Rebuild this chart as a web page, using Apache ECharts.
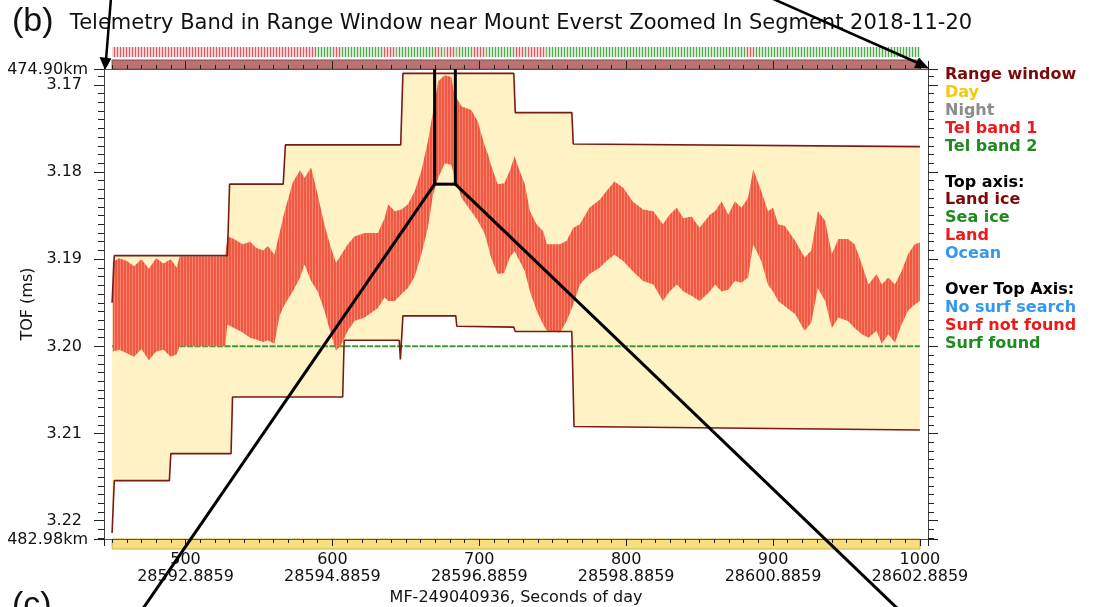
<!DOCTYPE html>
<html><head><meta charset="utf-8">
<script src="https://cdn.jsdelivr.net/npm/echarts@6/dist/echarts.min.js"></script>
<style>html,body{margin:0;padding:0;background:#fff}#c{width:1094px;height:607px}</style>
</head><body><div id="c"></div>
<script>
// ---------- axes ----------
const X_MIN = 444.5, X_MAX = 1005.5;          // MF offset
const Y_MIN = 3.168193, Y_MAX = 3.222093;     // TOF (ms)
const KM_PER_MS = 149.896229;                 // range km per ms of TOF
const SOD0 = 28582.8859, MF_RATE = 50;        // seconds of day at MF 0, frames per second
const TITLE = 'Telemetry Band in Range Window near Mount Everst Zoomed In Segment 2018-11-20';
const X_NAME = 'MF-249040936, Seconds of day';
const Y_NAME = 'TOF (ms)';

// ---------- range window (upper / lower edges) ----------
const winTopX = [450, 451.5, 528.5, 530, 566.5, 568, 646.5, 648, 723.5, 724.5, 763, 764, 1000];
const winTopY = [3.1950, 3.1896, 3.1896, 3.1814, 3.1814, 3.1769, 3.1769, 3.1687, 3.1687, 3.1732, 3.1732, 3.1768, 3.1771];
const winBotX = [450, 451.5, 489, 490, 531, 532, 607, 608, 645.5, 646.3, 648, 684, 684.7, 723.5, 724.5, 763, 764.5, 1000];
const winBotY = [3.2214, 3.2154, 3.2154, 3.2123, 3.2123, 3.2058, 3.2058, 3.1993, 3.1993, 3.2015, 3.1965, 3.1965, 3.1977, 3.1978, 3.1983, 3.1983, 3.2092, 3.2096];

// ---------- telemetry band 1 (envelope) ----------
const bandX = [
  450.5,455,460,465,470,475,480,485,490,494,
  496,527,528.5,532,539,544,548,553,556,560.5,
  564,567.5,573,578,581,585.5,590,594.5,599,602.5,
  606,610.5,615,622,631,635.5,638,642.5,647,651.5,
  656,660.5,665,668.5,672,676.5,681,683,688,694.5,
  699,703.5,706,708,712.5,717,720.7,724,727.5,731,
  734.5,739,743.5,746,755,759.5,764,768.5,775,782,
  786.5,792,798,804.5,811.5,818.5,825,829.5,834.5,839,
  844.5,850,857,860.5,865,869.5,874,878.5,883,886.5,
  892,896.5,900,903.5,908,915,921.5,926,930.5,935.5,
  940,944.5,951,955.5,960.5,965,970.5,974,978.5,983,
  987.5,992,996.5,1000];
const bandTop = [
  3.1903,3.1899,3.1902,3.1908,3.1900,3.1911,3.1899,3.1905,3.1900,3.1910,
  3.1897,3.1897,3.1874,3.1876,3.1883,3.1880,3.1887,3.1890,3.1885,3.1895,
  3.1870,3.1845,3.1812,3.1798,3.1807,3.1795,3.1826,3.1860,3.1887,3.1904,
  3.1895,3.1883,3.1874,3.1870,3.1870,3.1853,3.1837,3.1845,3.1843,3.1837,
  3.1822,3.1799,3.1765,3.1731,3.1696,3.1689,3.1691,3.1711,3.1725,3.1729,
  3.1742,3.1769,3.1780,3.1792,3.1814,3.1813,3.1799,3.1782,3.1799,3.1814,
  3.1845,3.1860,3.1868,3.1883,3.1883,3.1879,3.1864,3.1860,3.1841,3.1832,
  3.1822,3.1811,3.1818,3.1834,3.1843,3.1845,3.1860,3.1849,3.1841,3.1853,
  3.1851,3.1864,3.1849,3.1845,3.1834,3.1849,3.1834,3.1841,3.1830,3.1797,
  3.1822,3.1845,3.1841,3.1860,3.1862,3.1879,3.1898,3.1890,3.1845,3.1856,
  3.1894,3.1877,3.1877,3.1883,3.1906,3.1929,3.1917,3.1929,3.1921,3.1929,
  3.1914,3.1894,3.1883,3.1881];
const bandBottom = [
  3.2006,3.2004,3.2008,3.2012,3.2003,3.2016,3.2006,3.2004,3.2012,3.2009,
  3.2000,3.2000,3.1975,3.1978,3.1984,3.1990,3.1992,3.1995,3.1993,3.1997,
  3.1965,3.1952,3.1937,3.1921,3.1906,3.1925,3.1937,3.1959,3.1986,3.2005,
  3.1998,3.1982,3.1971,3.1967,3.1956,3.1944,3.1948,3.1948,3.1940,3.1933,
  3.1920,3.1895,3.1864,3.1826,3.1807,3.1790,3.1792,3.1805,3.1830,3.1845,
  3.1856,3.1870,3.1885,3.1898,3.1917,3.1916,3.1898,3.1891,3.1902,3.1914,
  3.1937,3.1959,3.1975,3.1982,3.1984,3.1971,3.1952,3.1929,3.1917,3.1910,
  3.1902,3.1895,3.1902,3.1914,3.1925,3.1929,3.1948,3.1937,3.1929,3.1937,
  3.1942,3.1948,3.1937,3.1929,3.1937,3.1935,3.1925,3.1927,3.1921,3.1883,
  3.1902,3.1929,3.1937,3.1948,3.1954,3.1963,3.1982,3.1973,3.1933,3.1948,
  3.1979,3.1967,3.1971,3.1979,3.1986,3.1990,3.1982,3.1997,3.1986,3.1996,
  3.1975,3.1959,3.1952,3.1948];

// ---------- telemetry band 2 ----------
const tel2X = [450, 1000];
const tel2Y = [3.2000, 3.2000];

// ---------- strips: [start, end, kind] ----------
const surfStart = [450, 589, 600, 606, 634.4, 643.5, 668.5, 673, 676.4, 684.4, 695.7, 704.8, 724, 729.8, 733.2, 745.7, 881, 888];
const surfEnd   = [589, 600, 606, 634.4, 643.5, 668.5, 673, 676.4, 684.4, 695.7, 704.8, 724, 729.8, 733.2, 745.7, 881, 888, 1000];
const surfKind  = ['nf','f','nf','f','nf','f','nf','f','nf','f','nf','f','nf','f','nf','f','nf','f'];
const surfaceStart = [450], surfaceEnd = [1000], surfaceKind = ['Land ice'];
const dayStart = [450], dayEnd = [1000], dayKind = ['Day'];

// ---------- legend text ----------
const legendLabels = ['Range window','Day','Night','Tel band 1','Tel band 2','',
  'Top axis:','Land ice','Sea ice','Land','Ocean','',
  'Over Top Axis:','No surf search','Surf not found','Surf found'];
const legendColors = ['#7c0a0a','#f2c811','#8c8c8c','#ee1a1a','#1f8a1f','#000',
  '#000','#7c0a0a','#1f8a1f','#ee1a1a','#3399ee','#000',
  '#000','#3399ee','#ee1a1a','#1f8a1f'];

// ---------- zoom annotation (data coords) ----------
const zoomBoxX = [669.6, 683.7];
const zoomBoxY = 3.1814;

function stripe(line, bg, period) {
  const c = document.createElement('canvas');
  c.width = period; c.height = 4;
  const g = c.getContext('2d');
  g.fillStyle = bg; g.fillRect(0, 0, period, 4);
  g.fillStyle = line; g.fillRect(0, 0, 1, 4);
  return { image: c, repeat: 'repeat' };
}
const bandPattern = stripe('#f5836f', '#f0583f', 3);
const surfFill = { nf: stripe('#e2545e', '#f6d2d4', 3), f: stripe('#4fa84f', '#d2ead2', 3) };

const FONT = 'DejaVu Sans';
const chart = echarts.init(document.getElementById('c'));

const isEnd = (v, a, b) => Math.abs(v - a) < 1e-6 || Math.abs(v - b) < 1e-6;
const axisCommon = { type: 'value', min: X_MIN, max: X_MAX };
const gridCommon = { left: 104, right: 166, containLabel: false, outerBoundsMode: 'none' };
const TICK = { color: '#222', width: 1 };

function stripSeries(axisIdx, starts, ends, kinds, fillFn, stroke) {
  return {
    type: 'custom', xAxisIndex: axisIdx, yAxisIndex: axisIdx, silent: true, z: 0,
    data: starts.map((s, i) => [s, ends[i], 0]),
    renderItem: (params, api) => {
      const p0 = api.coord([api.value(0), 1]);
      const p1 = api.coord([api.value(1), 0]);
      return { type: 'rect', shape: { x: p0[0], y: p0[1], width: p1[0] - p0[0], height: p1[1] - p0[1] },
        style: { fill: fillFn(kinds[params.dataIndex]), stroke: stroke, lineWidth: stroke ? 1 : 0 } };
    }
  };
}

const option = {
  animation: false,
  backgroundColor: '#fff',
  title: { text: TITLE, left: 516, top: 8, textAlign: 'center',
    textStyle: { fontFamily: FONT, fontSize: 21, fontWeight: 'normal', color: '#111' } },
  grid: [
    Object.assign({}, gridCommon, { top: 69, bottom: 68 }),
    Object.assign({}, gridCommon, { top: 60, height: 9 }),
    Object.assign({}, gridCommon, { top: 47, height: 10 }),
    Object.assign({}, gridCommon, { top: 539, height: 10 })
  ],
  xAxis: [
    Object.assign({}, axisCommon, { gridIndex: 0, position: 'bottom', z: 20,
      axisLine: { show: true, onZero: false, lineStyle: { color: '#555', width: 1 } },
      axisTick: { show: true, length: 7, lineStyle: TICK },
      minorTick: { show: true, splitNumber: 10, length: 4, lineStyle: TICK },
      splitLine: { show: false },
      axisLabel: { margin: 12, fontFamily: FONT, fontSize: 16, lineHeight: 17, color: '#111', hideOverlap: false,
        formatter: v => isEnd(v, X_MIN, X_MAX) ? '' : v + '\n' + (SOD0 + v / MF_RATE).toFixed(4) },
      name: X_NAME, nameLocation: 'middle', nameGap: 46,
      nameTextStyle: { fontFamily: FONT, fontSize: 16, color: '#111' } }),
    Object.assign({}, axisCommon, { gridIndex: 0, position: 'top', z: 20,
      axisLine: { show: true, onZero: false, lineStyle: { color: '#555', width: 1 } },
      axisTick: { show: true, length: 8, lineStyle: TICK },
      minorTick: { show: true, splitNumber: 10, length: 4, lineStyle: TICK },
      splitLine: { show: false }, axisLabel: { show: false } }),
    Object.assign({}, axisCommon, { gridIndex: 1, show: false }),
    Object.assign({}, axisCommon, { gridIndex: 2, show: false }),
    Object.assign({}, axisCommon, { gridIndex: 3, show: false })
  ],
  yAxis: [
    { type: 'value', gridIndex: 0, min: Y_MIN, max: Y_MAX, inverse: true, position: 'left', splitNumber: 5, z: 20,
      axisLine: { show: true, onZero: false, lineStyle: { color: '#444' } },
      axisTick: { show: true, length: 10, lineStyle: TICK },
      minorTick: { show: true, splitNumber: 10, length: 6, lineStyle: TICK },
      splitLine: { show: false },
      axisLabel: { margin: 22, fontFamily: FONT, fontSize: 16, color: '#111', hideOverlap: false,
        formatter: v => isEnd(v, Y_MIN, Y_MAX) ? '' : v.toFixed(2) },
      name: Y_NAME, nameLocation: 'middle', nameGap: 67, nameRotate: 90,
      nameTextStyle: { fontFamily: FONT, fontSize: 16, color: '#111' } },
    { type: 'value', gridIndex: 0, min: Y_MIN, max: Y_MAX, inverse: true, position: 'right', splitNumber: 5, z: 20,
      axisLine: { show: true, onZero: false, lineStyle: { color: '#444' } },
      axisTick: { show: true, length: 10, lineStyle: TICK },
      minorTick: { show: true, splitNumber: 10, length: 6, lineStyle: TICK },
      splitLine: { show: false }, axisLabel: { show: false } },
    { type: 'value', gridIndex: 1, min: 0, max: 1, show: false },
    { type: 'value', gridIndex: 2, min: 0, max: 1, show: false },
    { type: 'value', gridIndex: 3, min: 0, max: 1, show: false }
  ],
  series: [
    { // range window fill
      type: 'custom', xAxisIndex: 0, yAxisIndex: 0, silent: true, z: 1,
      data: winTopX.map((x, i) => [x, winTopY[i]]),
      renderItem: (params, api) => {
        if (params.dataIndex !== 0) return null;
        const pts = winTopX.map((x, i) => api.coord([x, winTopY[i]]));
        for (let i = winBotX.length - 1; i >= 0; i--) pts.push(api.coord([winBotX[i], winBotY[i]]));
        return { type: 'polygon', shape: { points: pts }, style: { fill: '#fff2c4', stroke: null } };
      }
    },
    { // tel band 2
      type: 'line', xAxisIndex: 0, yAxisIndex: 0, z: 2, silent: true, showSymbol: false,
      data: tel2X.map((x, i) => [x, tel2Y[i]]),
      lineStyle: { color: '#3f9a35', width: 2, type: [6, 1.5] }
    },
    { // tel band 1
      type: 'custom', xAxisIndex: 0, yAxisIndex: 0, silent: true, z: 3,
      data: bandX.map((x, i) => [x, bandTop[i], bandBottom[i]]),
      renderItem: (params, api) => {
        if (params.dataIndex !== 0) return null;
        const pts = bandX.map((x, i) => api.coord([x, bandTop[i]]));
        for (let i = bandX.length - 1; i >= 0; i--) pts.push(api.coord([bandX[i], bandBottom[i]]));
        return { type: 'polygon', shape: { points: pts }, style: { fill: bandPattern, stroke: null } };
      }
    },
    { type: 'line', xAxisIndex: 0, yAxisIndex: 0, z: 4, silent: true, showSymbol: false,
      data: winTopX.map((x, i) => [x, winTopY[i]]), lineStyle: { color: '#7a1a14', width: 1.6 } },
    { type: 'line', xAxisIndex: 0, yAxisIndex: 0, z: 4, silent: true, showSymbol: false,
      data: winBotX.map((x, i) => [x, winBotY[i]]), lineStyle: { color: '#7a1a14', width: 1.6 } },
    stripSeries(2, surfaceStart, surfaceEnd, surfaceKind, () => 'rgba(128,0,0,0.55)', '#8a4c4c'),
    stripSeries(3, surfStart, surfEnd, surfKind, k => surfFill[k], null),
    stripSeries(4, dayStart, dayEnd, dayKind, () => '#f7df7f', '#cdb04a')
  ]
};
chart.setOption(option);

// ---------- overlay annotations ----------
const g = [];
legendLabels.forEach((t, i) => {
  if (!t) return;
  g.push({ type: 'text', x: 945, y: 75 + i * 17.9, z: 50,
    style: { text: t, fill: legendColors[i], font: 'bold 16px "DejaVu Sans"', verticalAlign: 'middle' } });
});
// range (km) labels at the ends of the TOF axis
[Y_MIN, Y_MAX].forEach(v => {
  const p = chart.convertToPixel({ xAxisIndex: 0, yAxisIndex: 0 }, [X_MIN, v]);
  g.push({ type: 'text', x: p[0] - 16, y: p[1] + 1, z: 50,
    style: { text: (v * KM_PER_MS).toFixed(2) + 'km', fill: '#111', font: '16px "DejaVu Sans"', align: 'right', verticalAlign: 'middle' } });
});
g.push({ type: 'text', x: 12, y: 5, z: 50, style: { text: '(b)', fill: '#111', font: '34px "Liberation Sans"', verticalAlign: 'top' } });
g.push({ type: 'text', x: 12, y: 589, z: 50, style: { text: '(c)', fill: '#111', font: '34px "Liberation Sans"', verticalAlign: 'top' } });

const topY = chart.convertToPixel({ xAxisIndex: 0, yAxisIndex: 0 }, [zoomBoxX[0], Y_MIN])[1];
const pL = chart.convertToPixel({ xAxisIndex: 0, yAxisIndex: 0 }, [zoomBoxX[0], zoomBoxY]);
const pR = chart.convertToPixel({ xAxisIndex: 0, yAxisIndex: 0 }, [zoomBoxX[1], zoomBoxY]);
const L = (x1, y1, x2, y2, w) => g.push({ type: 'line', z: 100, shape: { x1, y1, x2, y2 }, style: { stroke: '#000', lineWidth: w || 3 } });
L(pL[0], topY, pL[0], pL[1]);
L(pR[0], topY, pR[0], pR[1]);
L(pL[0] - 1.5, pL[1], pR[0] + 1.5, pR[1]);
L(pL[0], pL[1], 142, 610);
L(pR[0], pR[1], 899, 610);
// arrows from figure above
L(111, -2, 106, 60, 2.5);
g.push({ type: 'polygon', z: 100, shape: { points: [[99.5, 57], [111.5, 58.5], [105, 70]] }, style: { fill: '#000' } });
L(771, -2, 918, 63, 2.5);
g.push({ type: 'polygon', z: 100, shape: { points: [[919, 57.5], [914, 68], [929, 68.5]] }, style: { fill: '#000' } });
chart.setOption({ graphic: g });
</script></body></html>
